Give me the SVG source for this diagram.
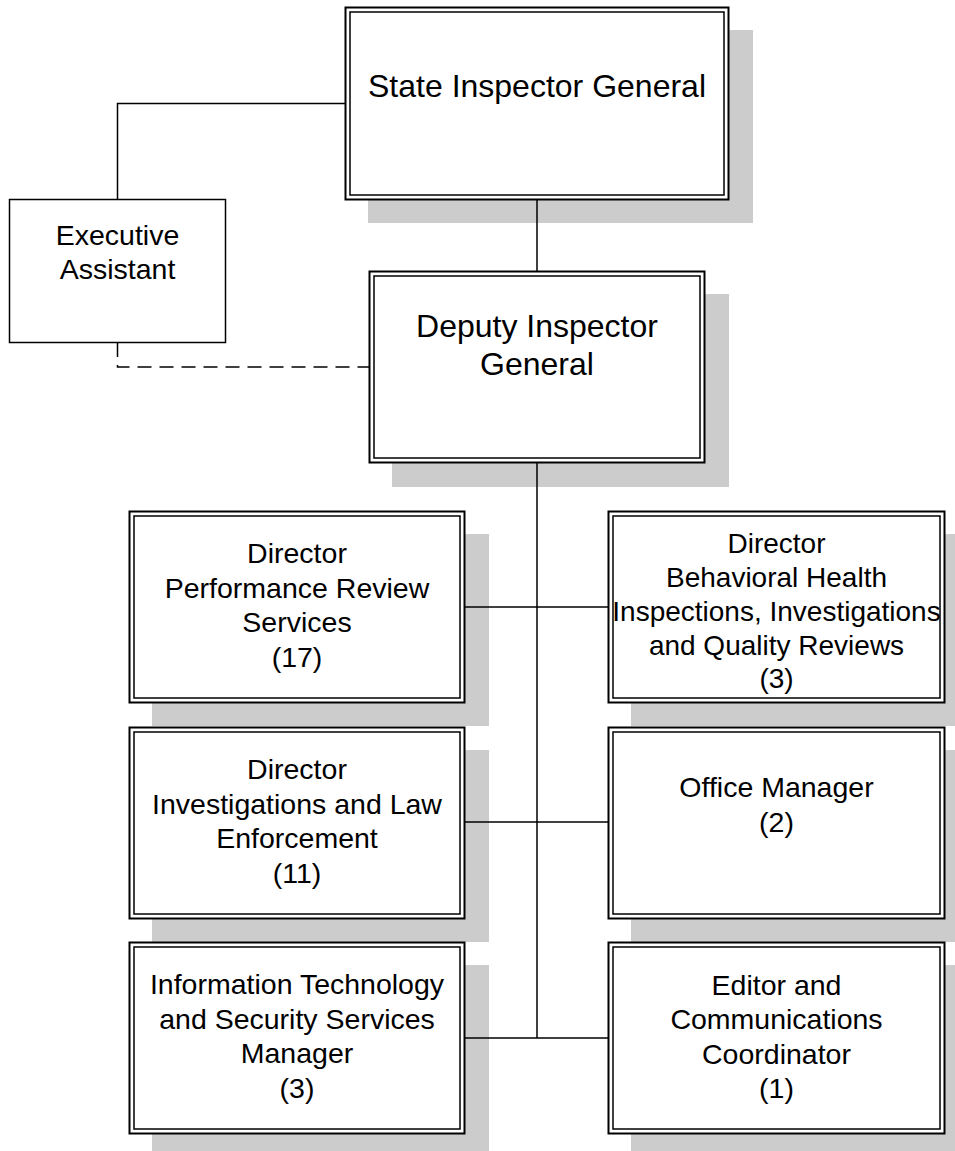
<svg xmlns="http://www.w3.org/2000/svg" width="955" height="1151" viewBox="0 0 955 1151">
<style>
.sh{fill:#cccccc;stroke:none}
.o{fill:#ffffff;stroke:#000000;stroke-width:2}
.i{fill:none;stroke:#000000;stroke-width:1.5}
.s{fill:#ffffff;stroke:#000000;stroke-width:1.5}
.c{fill:none;stroke:#000000;stroke-width:1.5}
.d{fill:none;stroke:#000000;stroke-width:1.5;stroke-dasharray:14 8}
text{font-family:"Liberation Sans",Arial,sans-serif;fill:#000000;text-anchor:middle}
.t1{font-size:32px}
.t2{font-size:28.5px}
.t3{font-size:28px}
</style>
<g id="shadows">
<rect class="sh" x="368" y="30" width="385" height="193"/>
<rect class="sh" x="392" y="294" width="337" height="193"/>
<rect class="sh" x="152" y="534" width="337" height="192"/>
<rect class="sh" x="631" y="534" width="338" height="192"/>
<rect class="sh" x="152" y="750" width="337" height="192"/>
<rect class="sh" x="631" y="750" width="338" height="192"/>
<rect class="sh" x="152" y="965" width="337" height="192"/>
<rect class="sh" x="631" y="965" width="338" height="192"/>
</g>
<g id="connectors">
<polyline class="c" points="345,103.5 117.5,103.5 117.5,199.5"/>
<polyline class="d" points="117.5,343 117.5,367 369,367"/>
<line class="c" x1="537" y1="200" x2="537" y2="271"/>
<line class="c" x1="537" y1="463" x2="537" y2="1038"/>
<line class="c" x1="465" y1="607" x2="608" y2="607"/>
<line class="c" x1="465" y1="822" x2="608" y2="822"/>
<line class="c" x1="465" y1="1038" x2="608" y2="1038"/>
</g>
<g id="state-inspector-general">
<rect class="o" x="345.5" y="7.5" width="383" height="192"/>
<rect class="i" x="350" y="12" width="374" height="183"/>
<text class="t1" x="537" y="97">State Inspector General</text>
</g>
<g id="executive-assistant">
<rect class="s" x="9.5" y="199.5" width="216" height="143"/>
<text class="t2" x="117.5" y="245">Executive</text>
<text class="t2" x="117.5" y="279">Assistant</text>
</g>
<g id="deputy-inspector-general">
<rect class="o" x="369.5" y="271.5" width="335" height="191"/>
<rect class="i" x="374" y="276" width="326" height="182"/>
<text class="t1" x="537" y="337">Deputy Inspector</text>
<text class="t1" x="537" y="375">General</text>
</g>
<g id="director-prs">
<rect class="o" x="129.5" y="511.5" width="335" height="191"/>
<rect class="i" x="134" y="516" width="326" height="182"/>
<text class="t2" x="297" y="563">Director</text>
<text class="t2" x="297" y="597.5">Performance Review</text>
<text class="t2" x="297" y="632">Services</text>
<text class="t2" x="297" y="666.5">(17)</text>
</g>
<g id="director-bh">
<rect class="o" x="608.5" y="511.5" width="336" height="191"/>
<rect class="i" x="613" y="516" width="327" height="182"/>
<text class="t3" x="776.5" y="553">Director</text>
<text class="t3" x="776.5" y="587">Behavioral Health</text>
<text class="t3" x="776.5" y="621">Inspections, Investigations</text>
<text class="t3" x="776.5" y="655">and Quality Reviews</text>
<text class="t3" x="776.5" y="688">(3)</text>
</g>
<g id="director-ile">
<rect class="o" x="129.5" y="727.5" width="335" height="191"/>
<rect class="i" x="134" y="732" width="326" height="182"/>
<text class="t2" x="297" y="779">Director</text>
<text class="t2" x="297" y="813.5">Investigations and Law</text>
<text class="t2" x="297" y="848">Enforcement</text>
<text class="t2" x="297" y="882.5">(11)</text>
</g>
<g id="office-manager">
<rect class="o" x="608.5" y="727.5" width="336" height="191"/>
<rect class="i" x="613" y="732" width="327" height="182"/>
<text class="t2" x="776.5" y="797">Office Manager</text>
<text class="t2" x="776.5" y="831.5">(2)</text>
</g>
<g id="it-manager">
<rect class="o" x="129.5" y="942.5" width="335" height="191"/>
<rect class="i" x="134" y="947" width="326" height="182"/>
<text class="t2" x="297" y="994">Information Technology</text>
<text class="t2" x="297" y="1028.5">and Security Services</text>
<text class="t2" x="297" y="1063">Manager</text>
<text class="t2" x="297" y="1097.5">(3)</text>
</g>
<g id="editor">
<rect class="o" x="608.5" y="942.5" width="336" height="191"/>
<rect class="i" x="613" y="947" width="327" height="182"/>
<text class="t2" x="776.5" y="995">Editor and</text>
<text class="t2" x="776.5" y="1029">Communications</text>
<text class="t2" x="776.5" y="1063.5">Coordinator</text>
<text class="t2" x="776.5" y="1098">(1)</text>
</g>
</svg>
